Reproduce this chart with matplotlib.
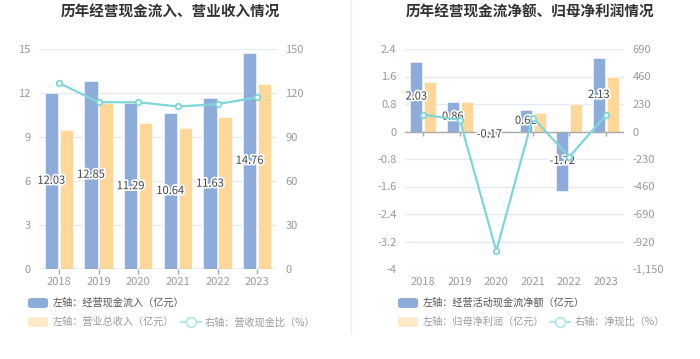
import matplotlib
matplotlib.use('Agg')
import matplotlib.pyplot as plt
import matplotlib.patheffects as pe
from matplotlib.patches import FancyBboxPatch
from matplotlib.lines import Line2D
import numpy as np

plt.rcParams['font.family'] = ['Noto Sans CJK SC', 'DejaVu Sans']

years = ['2018', '2019', '2020', '2021', '2022', '2023']

# left chart
cash_in = [12.03, 12.85, 11.29, 10.64, 11.63, 14.76]
revenue = [9.48, 11.30, 9.93, 9.60, 10.35, 12.60]
cash_ratio = [126.9, 113.7, 113.7, 110.8, 112.4, 117.1]

# right chart
net_cash = [2.03, 0.86, -0.17, 0.62, -1.72, 2.13]
net_profit = [1.45, 0.87, 0.017, 0.53, 0.81, 1.58]
net_ratio = [140.0, 98.9, -1000.0, 117.0, -212.3, 134.8]

left_ticks = [0, 3, 6, 9, 12, 15]
left_rticks = [0, 30, 60, 90, 120, 150]
right_ticks = [-4, -3.2, -2.4, -1.6, -0.8, 0, 0.8, 1.6, 2.4]
right_rticks = [-1150, -920, -690, -460, -230, 0, 230, 460, 690]

BLUE = '#8dacda'
YELLOW = '#ffd899'
CYAN = '#7fd5d8'
GRID = '#e6eaf2'
TICK = '#9a9a9a'
W, H = 700, 359

fig = plt.figure(figsize=(7, 3.59), dpi=100)


def px_axes(x0, x1, y0, y1):
    return fig.add_axes([x0 / W, (H - y1) / H, (x1 - x0) / W, (y1 - y0) / H])


def style(ax):
    for s in ax.spines.values():
        s.set_visible(False)
    ax.tick_params(axis='y', length=0, labelsize=8, labelcolor=TICK, pad=6)


def draw_panel(x0, x1, blue, yellow, ratio, lt, rt, title, title_x):
    ax = px_axes(x0, x1, 49, 269)
    style(ax)
    x = np.arange(len(years))
    bw = 0.33
    ax.bar(x - 0.19, blue, bw, color=BLUE, edgecolor='#ffffff', lw=0.4, zorder=2)
    ax.bar(x + 0.19, yellow, bw, color=YELLOW, edgecolor='#ffffff', lw=0.4, zorder=2)
    ax.set_xlim(-0.5, len(years) - 0.5)
    ax.set_ylim(lt[0], lt[-1])
    ax.set_yticks(lt)
    ax.set_yticklabels([('%g' % v) for v in lt])
    for v in lt:
        if v != 0:
            ax.axhline(v, color=GRID, lw=1, zorder=1)
    ax.axhline(0, color='#a8a8a8', lw=1, zorder=3)
    ax.set_xticks(x)
    ax.set_xticklabels(years)
    ax.tick_params(axis='x', length=0, labelsize=8, labelcolor=TICK, pad=6)
    ax.vlines(x, 0, -(lt[-1] - lt[0]) * 0.022, color='#a8a8a8', lw=1,
              zorder=3, clip_on=False)
    for xi, v in zip(x, blue):
        ax.text(xi - 0.19, v / 2, ('%.2f' % v), ha='center', va='center',
                fontsize=8, color='#444444', zorder=5,
                path_effects=[pe.withStroke(linewidth=2.5, foreground='white')])
    ax2 = ax.twinx()
    style(ax2)
    ax2.set_ylim(rt[0], rt[-1])
    ax2.set_yticks(rt)
    ax2.set_yticklabels([format(v, ',') for v in rt])
    ax2.plot(x, ratio, color=CYAN, lw=1.6, marker='o', ms=4,
             mfc='white', mec=CYAN, mew=1.3, zorder=4)
    fig.text(title_x / W, 1 - 12 / H, title, ha='center', va='center',
             fontsize=10.5, fontweight='bold', color='#333333')
    return ax


def legend_patch(x, y, color):
    p = FancyBboxPatch(((x) / W, (H - y - 5) / H), 20 / W, 10 / H,
                       boxstyle='round,pad=0,rounding_size=0.006',
                       transform=fig.transFigure, fc=color, ec='none')
    fig.patches.append(p)


def legend_line(x, y, color):
    yy = 1 - y / H
    fig.lines.append(Line2D([x / W, (x + 20) / W], [yy, yy], color=color, lw=1.5,
                            transform=fig.transFigure))
    fig.lines.append(Line2D([(x + 10) / W], [yy], color=color, marker='o', ms=7,
                            mfc='white', mec=color, mew=1.3, transform=fig.transFigure))


def legend_text(x, y, s, c):
    fig.text(x / W, 1 - y / H, s, ha='left', va='center', fontsize=7.3, color=c)


draw_panel(39, 277, cash_in, revenue, cash_ratio, left_ticks, left_rticks,
           '历年经营现金流入、营业收入情况', 170)
draw_panel(405, 624, net_cash, net_profit, net_ratio, right_ticks, right_rticks,
           '历年经营现金流净额、归母净利润情况', 530)

# legends
legend_patch(28, 303, BLUE)
legend_text(53, 303, '左轴：经营现金流入（亿元）', '#555555')
legend_patch(28, 322, '#ffe9c9')
legend_text(53, 322, '左轴：营业总收入（亿元）', '#9a9a9a')
legend_line(181, 322, '#b3e7e8')
legend_text(205, 322, '右轴：营收现金比（%）', '#9a9a9a')

legend_patch(398, 303, BLUE)
legend_text(423, 303, '左轴：经营活动现金流净额（亿元）', '#555555')
legend_patch(398, 322, '#ffe9c9')
legend_text(423, 322, '左轴：归母净利润（亿元）', '#9a9a9a')
legend_line(550, 322, '#b3e7e8')
legend_text(575, 322, '右轴：净现比（%）', '#9a9a9a')

# separator
fig.lines.append(Line2D([351 / W, 351 / W], [1 - 333 / H, 1], color='#eeeeee', lw=1,
                        transform=fig.transFigure))

fig.savefig('out.png', dpi=100)
